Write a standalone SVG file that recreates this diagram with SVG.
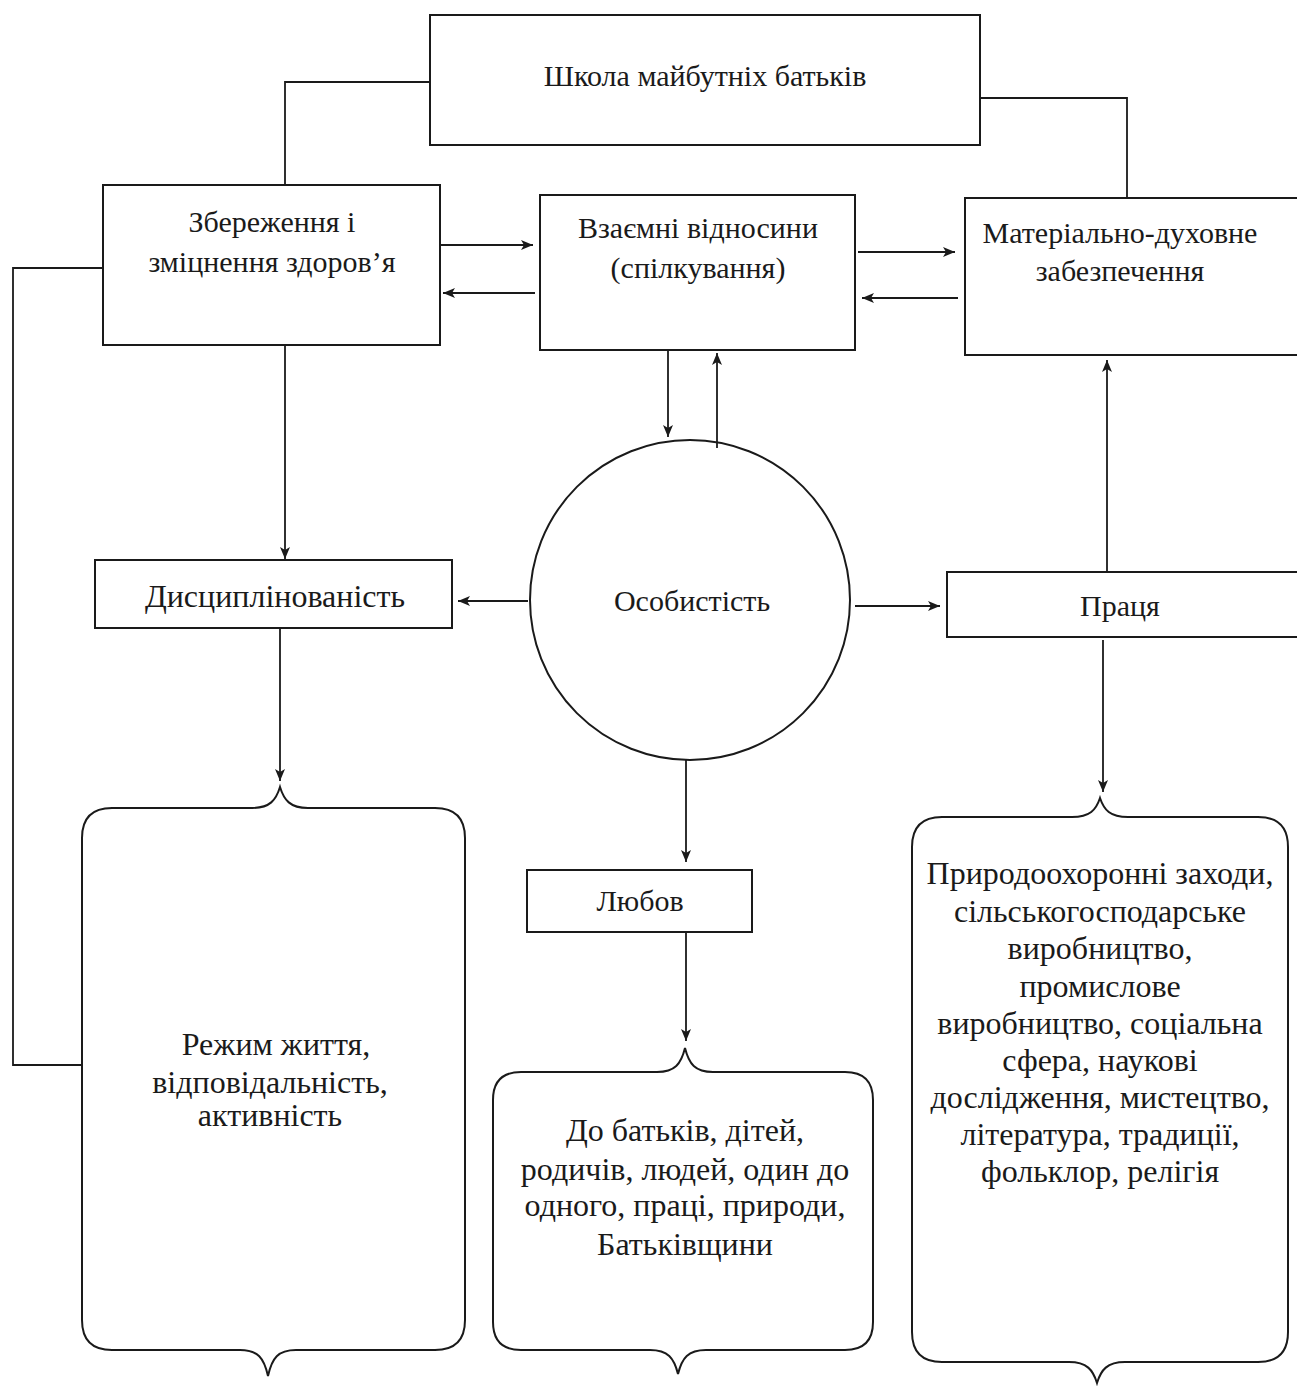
<svg xmlns="http://www.w3.org/2000/svg" width="1297" height="1386" viewBox="0 0 1297 1386">
<style>
.box{fill:none;stroke:#1a1a1a;stroke-width:2}
.ln{fill:none;stroke:#1a1a1a;stroke-width:1.8}
.t{font-family:"Liberation Serif","Times New Roman",serif;fill:#1a1a1a;text-anchor:middle}
.s1{font-size:30px}
.s2{font-size:32px}
</style>
<defs>
<marker id="ah" viewBox="0 0 12 10" refX="12" refY="5" markerWidth="12" markerHeight="10" markerUnits="userSpaceOnUse" orient="auto">
<path d="M0,0 L12,5 L0,10 L3,5 Z" fill="#1a1a1a"/>
</marker>
</defs>
<rect width="1297" height="1386" fill="#ffffff"/>

<g id="connectors">
<polyline class="ln" points="430,82 285,82 285,185"/>
<polyline class="ln" points="980,98 1127,98 1127,198"/>
<line class="ln" x1="440" y1="245" x2="533" y2="245" marker-end="url(#ah)"/>
<line class="ln" x1="535" y1="293" x2="443" y2="293" marker-end="url(#ah)"/>
<line class="ln" x1="858" y1="252" x2="955" y2="252" marker-end="url(#ah)"/>
<line class="ln" x1="958" y1="298" x2="862" y2="298" marker-end="url(#ah)"/>
<line class="ln" x1="668" y1="350" x2="668" y2="437" marker-end="url(#ah)"/>
<line class="ln" x1="717" y1="448" x2="717" y2="353" marker-end="url(#ah)"/>
<line class="ln" x1="285" y1="345" x2="285" y2="559" marker-end="url(#ah)"/>
<line class="ln" x1="528" y1="601" x2="458" y2="601" marker-end="url(#ah)"/>
<line class="ln" x1="855" y1="606" x2="940" y2="606" marker-end="url(#ah)"/>
<line class="ln" x1="1107" y1="572" x2="1107" y2="360" marker-end="url(#ah)"/>
<line class="ln" x1="280" y1="628" x2="280" y2="781" marker-end="url(#ah)"/>
<line class="ln" x1="1103" y1="640" x2="1103" y2="792" marker-end="url(#ah)"/>
<line class="ln" x1="686" y1="760" x2="686" y2="862" marker-end="url(#ah)"/>
<line class="ln" x1="686" y1="932" x2="686" y2="1041" marker-end="url(#ah)"/>
<polyline class="ln" points="103,268 13,268 13,1065 82,1065"/>
</g>

<g id="n-school">
<rect class="box" x="430" y="15" width="550" height="130"/>
<text class="t s1" x="705" y="86">Школа майбутніх батьків</text>
</g>

<g id="n-health">
<rect class="box" x="103" y="185" width="337" height="160"/>
<text class="t s1" x="272" y="232">Збереження і</text>
<text class="t s1" x="272" y="272">зміцнення здоров’я</text>
</g>

<g id="n-relations">
<rect class="box" x="540" y="195" width="315" height="155"/>
<text class="t s1" x="698" y="238">Взаємні відносини</text>
<text class="t s1" x="698" y="278">(спілкування)</text>
</g>

<g id="n-material">
<rect class="box" x="965" y="198" width="340" height="157"/>
<text class="t s1" x="1120" y="243">Матеріально-духовне</text>
<text class="t s1" x="1120" y="281">забезпечення</text>
</g>

<g id="n-discipline">
<rect class="box" x="95" y="560" width="357" height="68"/>
<text class="t s2" x="275" y="607">Дисциплінованість</text>
</g>

<g id="n-person">
<circle class="box" cx="690" cy="600" r="160"/>
<text class="t s1" x="692" y="611">Особистість</text>
</g>

<g id="n-work">
<rect class="box" x="947" y="572" width="355" height="65"/>
<text class="t s1" x="1120" y="616">Праця</text>
</g>

<g id="n-love">
<rect class="box" x="527" y="870" width="225" height="62"/>
<text class="t s1" x="640" y="911">Любов</text>
</g>

<g id="n-regime">
<path class="box" d="M82,838 Q82,808 112,808 L252,808 C270,808 276,800 280,787 C284,800 290,808 308,808 L435,808 Q465,808 465,838 L465,1320 Q465,1350 435,1350 L296,1350 C278,1350 272,1358 268,1376 C264,1358 258,1350 240,1350 L112,1350 Q82,1350 82,1320 Z"/>
<text class="t s2" x="276" y="1055">Режим життя,</text>
<text class="t s2" x="270" y="1093">відповідальність,</text>
<text class="t s2" x="270" y="1126">активність</text>
</g>

<g id="n-love-list">
<path class="box" d="M493,1100 Q493,1072 521,1072 L657,1072 C675,1072 681,1064 685,1048 C689,1064 695,1072 713,1072 L845,1072 Q873,1072 873,1100 L873,1322 Q873,1350 845,1350 L706,1350 C688,1350 682,1358 678,1374 C674,1358 668,1350 650,1350 L521,1350 Q493,1350 493,1322 Z"/>
<text class="t s2" x="685" y="1141">До батьків, дітей,</text>
<text class="t s2" x="685" y="1180">родичів, людей, один до</text>
<text class="t s2" x="685" y="1216">одного, праці, природи,</text>
<text class="t s2" x="685" y="1255">Батьківщини</text>
</g>

<g id="n-work-list">
<path class="box" d="M912,847 Q912,817 942,817 L1072,817 C1090,817 1096,810 1100,798 C1104,810 1110,817 1128,817 L1258,817 Q1288,817 1288,847 L1288,1332 Q1288,1362 1258,1362 L1125,1362 C1107,1362 1101,1370 1097,1383 C1093,1370 1087,1362 1069,1362 L942,1362 Q912,1362 912,1332 Z"/>
<text class="t s2" x="1100" y="884">Природоохоронні заходи,</text>
<text class="t s2" x="1100" y="922">сільськогосподарське</text>
<text class="t s2" x="1100" y="959">виробництво,</text>
<text class="t s2" x="1100" y="997">промислове</text>
<text class="t s2" x="1100" y="1034">виробництво, соціальна</text>
<text class="t s2" x="1100" y="1071">сфера, наукові</text>
<text class="t s2" x="1100" y="1108">дослідження, мистецтво,</text>
<text class="t s2" x="1100" y="1145">література, традиції,</text>
<text class="t s2" x="1100" y="1182">фольклор, релігія</text>
</g>
</svg>
